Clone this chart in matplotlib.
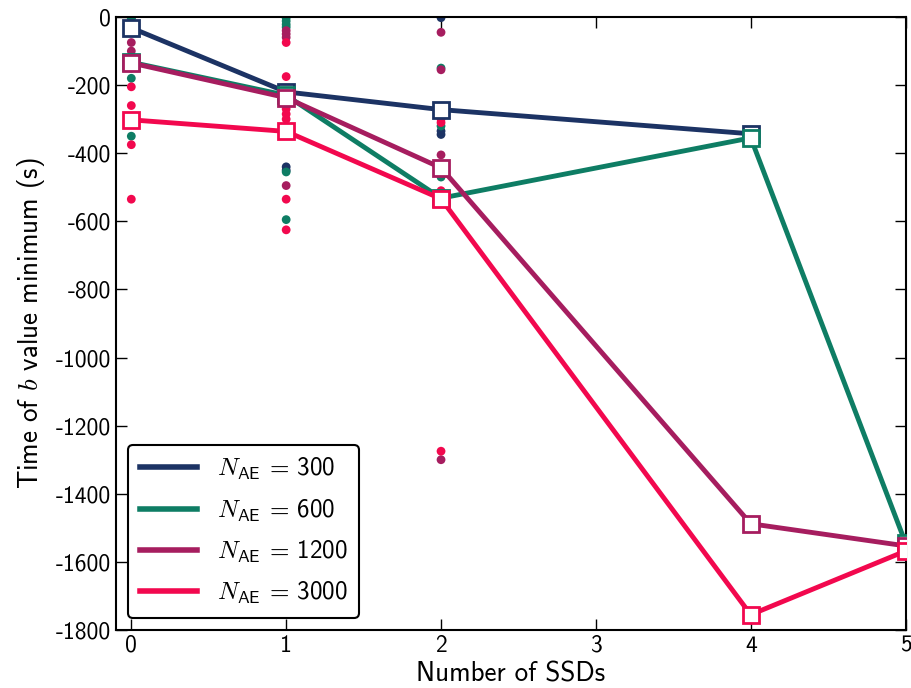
import matplotlib
matplotlib.use("Agg")
import matplotlib.pyplot as plt

plt.rcParams["font.family"] = ["cmss10", "DejaVu Sans"]
plt.rcParams["mathtext.fontset"] = "cm"
plt.rcParams["axes.unicode_minus"] = False

# mean time of b value minimum for each number of SSDs
n_ssds_300 = [0, 1, 2, 4]
t_min_300 = [-32, -220, -272, -343]
n_ssds = [0, 1, 2, 4, 5]
t_min_600 = [-133, -230, -532, -355, -1545]
t_min_1200 = [-135, -237, -443, -1488, -1553]
t_min_3000 = [-302, -336, -534, -1755, -1568]

# individual runs (x position, value)
runs_300 = {0: [-3], 1: [-440, -450], 2: [-2, -335, -345]}
runs_600 = {0: [-2, -150, -180, -350], 1: [-3, -12, -22, -30, -455, -595], 2: [-150, -320, -470]}
runs_1200 = {0: [-75, -100, -140], 1: [-40, -50, -60, -250, -495], 2: [-45, -155, -405, -1300]}
runs_3000 = {0: [-205, -260, -375, -535], 1: [-75, -175, -270, -285, -300, -535, -625], 2: [-300, -310, -510, -1275]}

colors = ["#1c3364", "#0e7d64", "#a61d5f", "#f2084e"]
labels = [r"$N_{\mathsf{AE}}$ = 300", r"$N_{\mathsf{AE}}$ = 600",
          r"$N_{\mathsf{AE}}$ = 1200", r"$N_{\mathsf{AE}}$ = 3000"]
series = [(n_ssds_300, t_min_300, runs_300), (n_ssds, t_min_600, runs_600),
          (n_ssds, t_min_1200, runs_1200), (n_ssds, t_min_3000, runs_3000)]

fig = plt.figure(figsize=(9.12, 6.88), dpi=100)
ax = fig.add_axes([0.127, 0.0843, 0.866, 0.891])

for (xs, ys, runs), c, lab in zip(series, colors, labels):
    for x, vals in runs.items():
        ax.scatter([x] * len(vals), vals, s=40, color=c, edgecolors="none", zorder=2)
    ax.plot(xs, ys, color=c, lw=3.5, marker="s", markersize=12, markerfacecolor="white",
            markeredgecolor=c, markeredgewidth=2, label=lab, zorder=3)

ax.set_xlim(-0.1, 5)
ax.set_ylim(-1800, 0)
ax.set_xticks([0, 1, 2, 3, 4, 5])
ax.set_yticks(range(-1800, 1, 200))
ax.tick_params(direction="in", length=8, width=1, top=True, right=True, labelsize=17)
for s in ax.spines.values():
    s.set_linewidth(1.5)

ax.set_xlabel("Number of SSDs", fontsize=19.5, labelpad=3)
ax.set_ylabel(r"Time of $b$ value minimum (s)", fontsize=19.5, labelpad=6)

leg = ax.legend(loc="lower left", fontsize=18, handlelength=2.3, framealpha=1,
                edgecolor="black", fancybox=True, borderpad=0.45, labelspacing=0.6,
                bbox_to_anchor=(0.0, 0.0))
leg.get_frame().set_linewidth(1.5)
for line in leg.get_lines():
    line.set_marker("")
    line.set_linewidth(4)

fig.savefig("out.png", dpi=100)
